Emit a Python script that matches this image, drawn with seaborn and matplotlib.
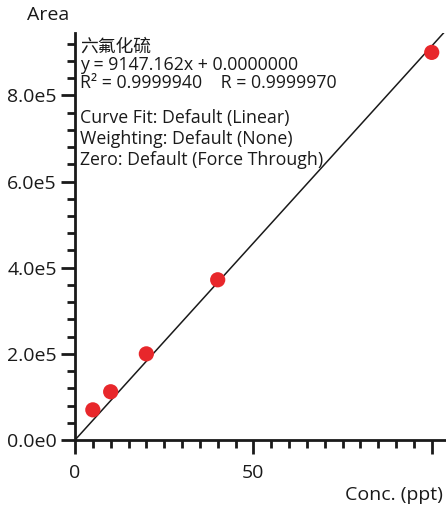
import matplotlib
matplotlib.use("Agg")
import matplotlib.pyplot as plt
import seaborn as sns
import numpy as np
import pandas as pd
from matplotlib.ticker import MultipleLocator, FuncFormatter, FixedLocator

sns.set_style("white")
plt.rcParams['font.family'] = ['Open Sans', 'Noto Sans CJK SC', 'DejaVu Sans']

# data
conc = [5, 10, 20, 40, 100]
area = [70000, 112000, 200000, 372000, 900000]
slope = 9147.162
intercept = 0.0
fit_x = [0, 104]
title_lines = ["六氟化硫", "y = 9147.162x + 0.0000000", "R² = 0.9999940    R = 0.9999970"]
info_lines = ["Curve Fit: Default (Linear)", "Weighting: Default (None)", "Zero: Default (Force Through)"]

df = pd.DataFrame({"Conc": conc, "Area": area})
fit_df = pd.DataFrame({"x": fit_x, "y": [slope * v + intercept for v in fit_x]})

fig = plt.figure(figsize=(4.46, 5.11), dpi=100)
ax = fig.add_axes([75/446, 1-440/511, (446-75)/446, (440-33)/511])

sns.lineplot(data=fit_df, x="x", y="y", ax=ax, color="#1a1a1a", linewidth=1.1)
sns.scatterplot(data=df, x="Conc", y="Area", ax=ax, color="#e8272b", s=120, edgecolor="none", zorder=3)

ax.set_xlim(0, 104)
ax.set_ylim(0, 9.45e5)
ax.set_xlabel("")
ax.set_ylabel("")
for s in ["top", "right"]:
    ax.spines[s].set_visible(False)
for s in ["left", "bottom"]:
    ax.spines[s].set_linewidth(2.0)
    ax.spines[s].set_color("#1a1a1a")

ax.xaxis.set_major_locator(FixedLocator([0, 50, 100]))
ax.xaxis.set_major_formatter(FuncFormatter(lambda v, p: "" if v >= 100 else f"{v:.0f}"))
ax.xaxis.set_minor_locator(MultipleLocator(5))
ax.yaxis.set_major_locator(MultipleLocator(2e5))
ax.yaxis.set_minor_locator(MultipleLocator(4e4))

def yfmt(v, p):
    if v == 0:
        return "0.0e0"
    e = int(np.floor(np.log10(abs(v))))
    return f"{v/10**e:.1f}e{e}"
ax.yaxis.set_major_formatter(FuncFormatter(yfmt))

ax.tick_params(axis="both", which="major", direction="out", length=10, width=2, color="#1a1a1a",
               labelsize=14, labelcolor="#1a1a1a", pad=3, bottom=True, left=True)
ax.tick_params(axis="both", which="minor", direction="out", length=6, width=2, color="#1a1a1a",
               bottom=True, left=True)
ax.tick_params(axis="x", which="major", pad=7)

fig.text(27/446, 1-15/511, "Area", fontsize=14, color="#1a1a1a", va="center", ha="left")
fig.text(443/446, 1-495/511, "Conc. (ppt)", fontsize=14, color="#1a1a1a", va="center", ha="right")

ys = [47, 65, 83]
for t, y in zip(title_lines, ys):
    fig.text(80/446, 1-y/511, t, fontsize=12.8, color="#1a1a1a", va="center", ha="left")
ys2 = [118, 139, 160]
for t, y in zip(info_lines, ys2):
    fig.text(80/446, 1-y/511, t, fontsize=12.8, color="#1a1a1a", va="center", ha="left")

fig.savefig("out.png", dpi=100)
